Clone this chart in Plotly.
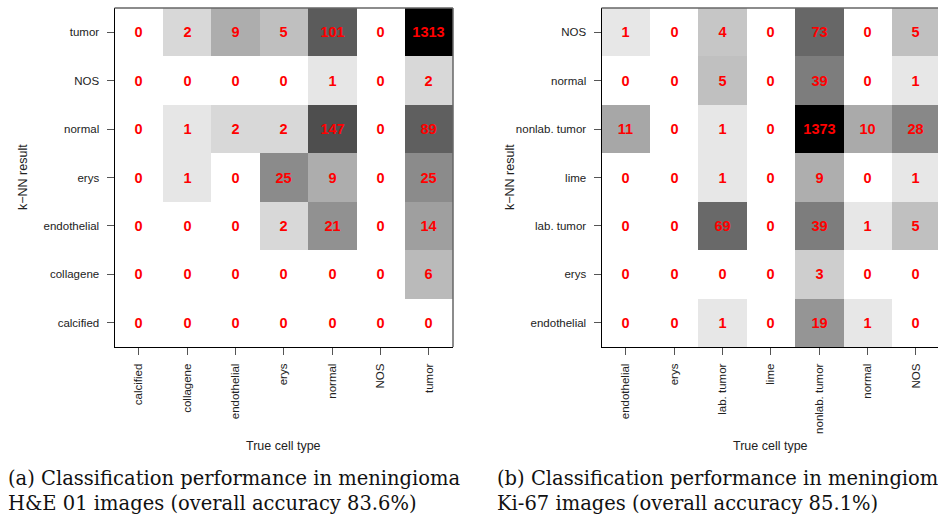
import numpy as np
import plotly.graph_objects as go

# ---------------- data ----------------
a_true = ["calcified", "collagene", "endothelial", "erys", "normal", "NOS", "tumor"]
a_pred = ["tumor", "NOS", "normal", "erys", "endothelial", "collagene", "calcified"]  # top -> bottom
a_counts = [
    [0, 2, 9, 5, 101, 0, 1313],
    [0, 0, 0, 0, 1, 0, 2],
    [0, 1, 2, 2, 147, 0, 89],
    [0, 1, 0, 25, 9, 0, 25],
    [0, 0, 0, 2, 21, 0, 14],
    [0, 0, 0, 0, 0, 0, 6],
    [0, 0, 0, 0, 0, 0, 0],
]

b_true = ["endothelial", "erys", "lab. tumor", "lime", "nonlab. tumor", "normal", "NOS"]
b_pred = ["NOS", "normal", "nonlab. tumor", "lime", "lab. tumor", "erys", "endothelial"]  # top -> bottom
b_counts = [
    [1, 0, 4, 0, 73, 0, 5],
    [0, 0, 5, 0, 39, 0, 1],
    [11, 0, 1, 0, 1373, 10, 28],
    [0, 0, 1, 0, 9, 0, 1],
    [0, 0, 69, 0, 39, 1, 5],
    [0, 0, 0, 0, 3, 0, 0],
    [0, 0, 1, 0, 19, 1, 0],
]

caption_a = ["(a) Classification performance in meningioma",
             "H&E 01 images (overall accuracy 83.6%)"]
caption_b = ["(b) Classification performance in meningioma",
             "Ki-67 images (overall accuracy 85.1%)"]

# ---------------- layout helpers ----------------
W, H = 938, 518
SANS = "Liberation Sans, Arial, sans-serif"
SERIF = "DejaVu Serif, serif"


def px(x):
    return x / W


def py(y):
    return 1 - y / H


fig = go.Figure()

panels = [
    dict(true=a_true, pred=a_pred, counts=a_counts, xa="x", ya="y",
         left=114.5, right=453.0, cap=caption_a, capx=6),
    dict(true=b_true, pred=b_pred, counts=b_counts, xa="x2", ya="y2",
         left=601.5, right=940.0, cap=caption_b, capx=495),
]
top, bottom = 8.0, 347.0

for i, p in enumerate(panels):
    counts = np.array(p["counts"], dtype=float)
    z = np.log1p(counts)
    fig.add_trace(go.Heatmap(
        z=z, x=p["true"], y=p["pred"],
        text=np.array(p["counts"]).astype(str), texttemplate="%{text}",
        textfont=dict(family=SANS, size=14.5, color="#FF0000", weight="bold"),
        colorscale=[[0, "#FFFFFF"], [1, "#000000"]],
        zmin=0, zmax=float(np.log1p(counts.max())),
        showscale=False, hoverinfo="skip", xgap=0, ygap=0,
        xaxis=p["xa"], yaxis=p["ya"],
    ))

    cell = (p["right"] - p["left"]) / 7.0
    vis_right = min(p["right"], W)
    xr = [-0.5, -0.5 + (vis_right - p["left"]) / cell]
    suffix = "" if i == 0 else "2"
    axis_common = dict(
        ticks="outside", ticklen=7, tickcolor="#555555", tickwidth=1,
        tickfont=dict(family=SANS, size=11.5, color="#222222"),
        showgrid=False, zeroline=False, showline=True, linecolor="#000000",
        linewidth=1, automargin=False, fixedrange=True,
    )
    fig.update_layout(**{
        "xaxis" + suffix: dict(
            domain=[px(p["left"]), px(vis_right)], range=xr,
            anchor="y" + suffix, tickangle=-90, side="bottom",
            type="category", ticklabelstandoff=4, **axis_common),
        "yaxis" + suffix: dict(
            domain=[py(bottom), py(top)], range=[6.5, -0.5],
            anchor="x" + suffix, type="category", ticklabelstandoff=5,
            **axis_common),
    })

    # gray top / right frame lines
    fig.add_shape(type="line", xref="paper", yref="paper",
                  x0=px(p["left"]), x1=px(vis_right), y0=py(top), y1=py(top),
                  line=dict(color="#666666", width=1.5))
    if p["right"] <= W:
        fig.add_shape(type="line", xref="paper", yref="paper",
                      x0=px(p["right"]), x1=px(p["right"]), y0=py(top), y1=py(bottom),
                      line=dict(color="#666666", width=1.5))

    cx = (p["left"] + p["right"]) / 2
    fig.add_annotation(text="True cell type", xref="paper", yref="paper",
                       x=px(cx), y=py(446), xanchor="center", yanchor="middle",
                       showarrow=False, font=dict(family=SANS, size=12.5, color="#222222"))
    fig.add_annotation(text="k\u2212NN result", xref="paper", yref="paper",
                       x=px(p["left"] - 92), y=py((top + bottom) / 2),
                       xanchor="center", yanchor="middle", textangle=-90,
                       showarrow=False, font=dict(family=SANS, size=12.5, color="#222222"))
    for j, line in enumerate(p["cap"]):
        fig.add_annotation(text=line, xref="paper", yref="paper",
                           x=px(p["capx"]), y=py(478.5 + 24.5 * j),
                           xanchor="left", yanchor="middle", showarrow=False,
                           font=dict(family=SERIF, size=19.5, color="#111111"))

fig.update_layout(
    width=W, height=H, margin=dict(l=0, r=0, t=0, b=0),
    paper_bgcolor="white", plot_bgcolor="white", showlegend=False,
)

fig.write_html("out.html", config={"displayModeBar": False})
